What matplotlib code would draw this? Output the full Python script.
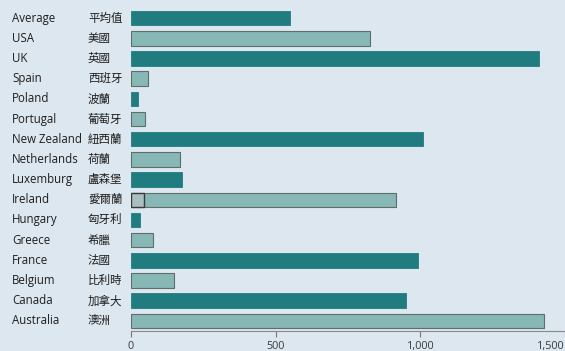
import matplotlib.pyplot as plt
import matplotlib.transforms as mtransforms
from matplotlib.ticker import FuncFormatter

countries_en = ["Average", "USA", "UK", "Spain", "Poland", "Portugal", "New Zealand",
                "Netherlands", "Luxemburg", "Ireland", "Hungary", "Greece", "France",
                "Belgium", "Canada", "Australia"]
countries_zh = ["平均值", "美國", "英國", "西班牙", "波蘭", "葡萄牙", "紐西蘭",
                "荷蘭", "盧森堡", "愛爾蘭", "匈牙利", "希臘", "法國",
                "比利時", "加拿大", "澳洲"]
values = [548, 825, 1410, 59, 24, 48, 1010, 169, 176, 917, 31, 76, 993, 148, 952, 1428]
dark = [True, False, True, False, True, False, True, False, True, False, True, False,
        True, False, True, False]
# small inset box drawn over the start of the Ireland bar
ireland_inset = 45

bg = "#dde7ef"
dark_teal = "#217c80"
light_teal = "#88b8b5"
edge_grey = "#5d6e6d"
text_col = "#1e1e1e"

fig = plt.figure(figsize=(5.65, 3.51), dpi=100, facecolor=bg)
ax = fig.add_axes([131 / 565, 1 - 331 / 351, 1 - 131 / 565, 323 / 351])
ax.set_facecolor(bg)

ypos = list(range(len(values)))
for y, v, d in zip(ypos, values, dark):
    if d:
        ax.barh(y, v, height=0.72, color=dark_teal, edgecolor=dark_teal, linewidth=0.6)
    else:
        ax.barh(y, v, height=0.72, color=light_teal, edgecolor=edge_grey, linewidth=0.8)

irl = countries_en.index("Ireland")
ax.barh(irl, ireland_inset, height=0.72, color="#a9bfc0", edgecolor="#3a3a3a", linewidth=1.0)

ax.set_xlim(0, 1500)
ax.set_ylim(len(values) - 0.5, -0.5)
ax.set_yticks([])
ax.set_xticks([0, 500, 1000, 1500])
ax.xaxis.set_major_formatter(FuncFormatter(lambda x, p: f"{int(x):,}"))
ax.tick_params(axis="x", length=4, width=0.8, color="#777777", labelcolor="#3a3a3a",
               labelsize=7.8, pad=3)
for lab in ax.get_xticklabels():
    lab.set_fontfamily("Open Sans")
ax.get_xticklabels()[-1].set_horizontalalignment("right")
for side in ["top", "right", "left"]:
    ax.spines[side].set_visible(False)
ax.spines["bottom"].set_color("#888888")
ax.spines["bottom"].set_linewidth(0.8)

trans = mtransforms.blended_transform_factory(fig.transFigure, ax.transData)
for y, en, zh in zip(ypos, countries_en, countries_zh):
    ax.text(12 / 565, y, en, transform=trans, ha="left", va="center",
            fontsize=8.3, color=text_col, family=["Open Sans", "DejaVu Sans"])
    ax.text(88 / 565, y, zh, transform=trans, ha="left", va="center",
            fontsize=8.3, color=text_col, family=["Noto Sans CJK TC", "DejaVu Sans"])

fig.savefig("out.png", dpi=100, facecolor=bg)
